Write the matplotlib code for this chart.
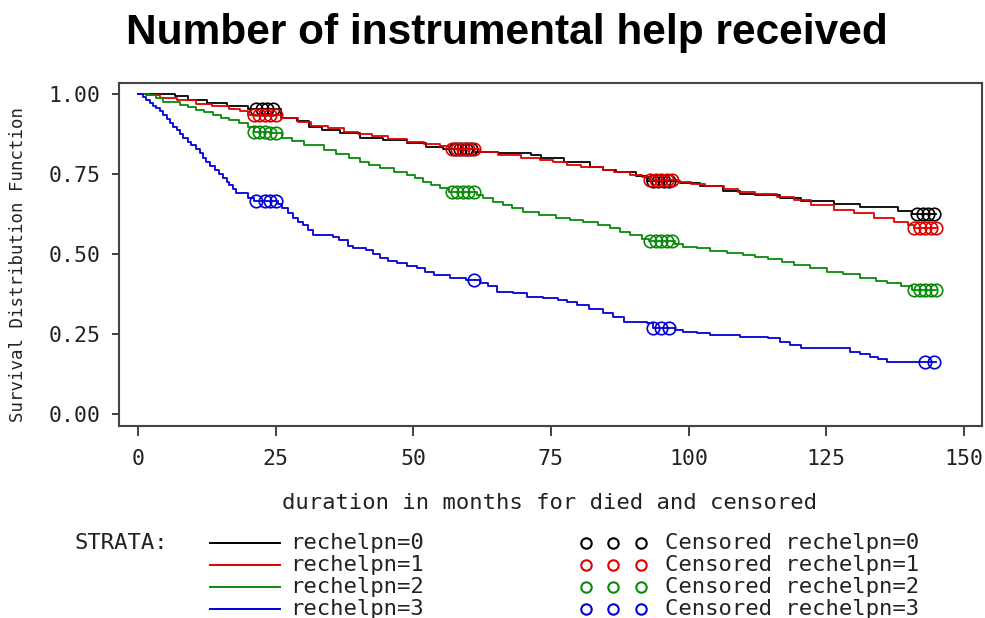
import numpy as np
import matplotlib
matplotlib.use("Agg")
import matplotlib.pyplot as plt
from matplotlib.lines import Line2D

plt.rcParams['font.family'] = ['DejaVu Sans Mono']

# Kaplan-Meier step curves (time in months, survival)
time0 = [0, 6.7, 9.1, 12.5, 16.1, 20, 26, 28.8, 31, 33.5, 36.7, 40.3, 44.5, 48.8, 52.4, 55.4,
         61.1, 65.3, 71.4, 73.2, 77.3, 82.1, 84.5, 86.9, 90.5, 92.5, 98.5, 102.1, 106.3, 109.3,
         112, 116.7, 120.4, 126.4, 131.2, 138.1, 140.5, 145]
surv0 = [1.0, 0.992, 0.981, 0.973, 0.963, 0.952, 0.924, 0.916, 0.898, 0.888, 0.878, 0.861, 0.856,
         0.846, 0.835, 0.828, 0.82, 0.814, 0.809, 0.799, 0.787, 0.773, 0.763, 0.755, 0.742, 0.727,
         0.721, 0.711, 0.697, 0.686, 0.684, 0.675, 0.664, 0.656, 0.648, 0.634, 0.624, 0.624]

time1 = [0, 1.5, 4, 7, 10.5, 13.5, 16.5, 18.5, 20, 26, 29, 31.5, 34.5, 37.5, 40, 42.5, 45.5, 48.8,
         52, 54.8, 56.5, 62, 65.3, 69.6, 73, 75.3, 78, 80.5, 84.5, 86.5, 89.4, 91.5, 93, 98, 100.5,
         103, 106.5, 109, 112, 116, 119.2, 122.3, 126.4, 130.1, 133.7, 137.4, 139.8, 141, 145]
surv1 = [1.0, 0.995, 0.988, 0.98, 0.968, 0.962, 0.952, 0.945, 0.934, 0.924, 0.912, 0.9, 0.893,
         0.882, 0.875, 0.867, 0.858, 0.851, 0.843, 0.836, 0.828, 0.82, 0.809, 0.799, 0.792, 0.786,
         0.779, 0.773, 0.762, 0.755, 0.747, 0.74, 0.731, 0.725, 0.717, 0.711, 0.703, 0.695, 0.688,
         0.678, 0.669, 0.653, 0.638, 0.627, 0.611, 0.599, 0.59, 0.582, 0.582]

time2 = [0, 2, 3.3, 4.6, 7.6, 9, 10.6, 12, 13.6, 15, 16.6, 18.3, 19.9, 21, 24, 26.1, 28, 30.1, 33.7,
         36, 38.3, 40.3, 42, 43.9, 46.5, 48.8, 50.3, 51.8, 53.3, 54.8, 56.5, 61.5, 62.7, 64.5, 66.3,
         68, 69.9, 72.9, 76, 78.5, 80.9, 83.5, 85.7, 87.5, 89.4, 91.5, 92.8, 97.5, 99, 101.5, 103.9,
         107, 109.9, 112, 114.5, 117, 119.2, 122, 125.2, 128, 131.2, 134, 136.1, 138.5, 140.5, 145]
surv2 = [1.0, 0.995, 0.987, 0.976, 0.966, 0.958, 0.95, 0.942, 0.934, 0.926, 0.919, 0.908, 0.898,
         0.882, 0.877, 0.861, 0.852, 0.84, 0.825, 0.812, 0.799, 0.788, 0.778, 0.768, 0.757, 0.747,
         0.737, 0.726, 0.715, 0.705, 0.693, 0.684, 0.674, 0.663, 0.653, 0.643, 0.632, 0.622, 0.611,
         0.606, 0.601, 0.59, 0.58, 0.57, 0.559, 0.548, 0.54, 0.532, 0.523, 0.517, 0.51, 0.503,
         0.497, 0.49, 0.484, 0.474, 0.466, 0.456, 0.445, 0.436, 0.426, 0.416, 0.408, 0.401, 0.388, 0.388]

time3 = [0, 0.9, 1.5, 2.1, 2.7, 3.3, 4, 4.6, 5.2, 5.8, 6.4, 7, 7.6, 8.2, 9, 9.7, 10.5, 11.2, 11.8,
         12.4, 13.1, 13.9, 14.7, 15.5, 16.1, 16.6, 17.2, 17.8, 20, 21, 25.5, 26.1, 27.2, 28.2, 29.1,
         30, 30.8, 31.7, 35.4, 36.6, 38.1, 39.1, 41.5, 42.7, 43.9, 45.5, 47, 48.8, 50.6, 52.2, 53.7,
         56.7, 59.5, 62.2, 63.5, 65.2, 68.2, 70.6, 73.5, 76.3, 78, 79.7, 82, 84.5, 86.3, 88.2, 92.4,
         93.5, 97.5, 99, 101.5, 103.9, 109.3, 114.5, 116.7, 118.5, 120.4, 129.4, 131.2, 133, 134.5,
         136, 145]
surv3 = [1.0, 0.99, 0.981, 0.971, 0.963, 0.955, 0.945, 0.934, 0.921, 0.908, 0.898, 0.888, 0.874,
         0.861, 0.85, 0.84, 0.828, 0.815, 0.801, 0.788, 0.775, 0.763, 0.749, 0.736, 0.726, 0.716,
         0.703, 0.69, 0.675, 0.665, 0.655, 0.643, 0.627, 0.611, 0.6, 0.59, 0.575, 0.559, 0.554,
         0.545, 0.525, 0.52, 0.513, 0.5, 0.487, 0.479, 0.471, 0.463, 0.455, 0.444, 0.434, 0.426,
         0.418, 0.41, 0.4, 0.382, 0.377, 0.367, 0.362, 0.356, 0.349, 0.341, 0.328, 0.315, 0.302,
         0.288, 0.283, 0.27, 0.262, 0.257, 0.252, 0.247, 0.242, 0.236, 0.226, 0.215, 0.205, 0.195,
         0.187, 0.179, 0.171, 0.163, 0.163]

# censored times (months)
cens0 = [21.5, 22.5, 23.5, 24.5, 57.5, 58.5, 59.5, 60.5, 93.5, 94.5, 95.5, 96.5, 141.5, 142.5, 143.5, 144.5]
cens1 = [21, 22, 23, 24, 25, 57, 58, 59, 60, 61, 93, 94, 95, 96, 97, 141, 142, 143, 144, 145]
cens2 = [21, 22, 23, 24, 25, 57, 58, 59, 60, 61, 93, 94, 95, 96, 97, 141, 142, 143, 144, 145]
cens3 = [21.5, 23, 24, 25, 61, 93.5, 95, 96.5, 143, 144.5]

strata = ["rechelpn=0", "rechelpn=1", "rechelpn=2", "rechelpn=3"]
colors = ["black", "#e00000", "#0a8a0a", "#0000d8"]
xticks = [0, 25, 50, 75, 100, 125, 150]
yticks = [0.0, 0.25, 0.5, 0.75, 1.0]


def SurvAt(times, surv, t):
    idx = np.searchsorted(times, t, side="right") - 1
    return np.array(surv)[idx]


fig = plt.figure(figsize=(9.85, 6.18), dpi=100)
ax = fig.add_axes([119 / 985, 1 - 426 / 618, (982 - 119) / 985, (426 - 83) / 618])

curves = [(time0, surv0, cens0), (time1, surv1, cens1), (time2, surv2, cens2), (time3, surv3, cens3)]
for (t, s, c), col in zip(curves, colors):
    ax.plot(t, s, drawstyle="steps-post", color=col, lw=1.3)
    ax.plot(c, SurvAt(t, s, c), "o", mfc="none", mec=col, ms=9, mew=1.2)

ax.set_xlim(-3.45, 153.3)
ax.set_ylim(-0.0375, 1.034)
ax.set_xticks(xticks)
ax.set_xticklabels([str(v) for v in xticks])
ax.set_yticks(yticks)
ax.set_yticklabels([f"{v:.2f}" for v in yticks])
ax.tick_params(axis="x", length=7.5, width=1.3, pad=9, labelsize=15.5, colors="#333333", labelcolor="#222222")
ax.tick_params(axis="y", length=5, width=1.3, pad=8.5, labelsize=15.5, colors="#333333", labelcolor="#222222")
for sp in ax.spines.values():
    sp.set_color("#444444")
    sp.set_linewidth(1.5)

fig.text(507 / 985, 1 - 33 / 618, "Number of instrumental help received",
         family=["Liberation Sans"], weight="bold", size=30.5,
         ha="center", va="center")
fig.text(18 / 985, 1 - 265 / 618, "Survival Distribution Function", rotation=90,
         size=12.5, ha="center", va="center", color="#222222")
fig.text(550 / 985, 1 - 503 / 618, "duration in months for died and censored",
         size=16, ha="center", va="center", color="#222222")

# legend drawn by hand in figure pixels
rows = [543, 565, 587, 609]
fig.text(75 / 985, 1 - rows[0] / 618, "STRATA:", size=16, va="center", color="#222222")
for name, col, y in zip(strata, colors, rows):
    yf = 1 - y / 618
    fig.add_artist(Line2D([210 / 985, 280 / 985], [yf, yf], color=col, lw=1.4))
    fig.text(290 / 985, yf, name, size=16, va="center", color="#222222")
    fig.add_artist(Line2D([586 / 985, 613 / 985, 641 / 985], [yf, yf, yf], ls="none", marker="o",
                          mfc="none", mec=col, ms=7.5, mew=1.5))
    fig.text(665 / 985, yf, "Censored " + name, size=16, va="center", color="#222222")

fig.savefig("out.png", dpi=100)
